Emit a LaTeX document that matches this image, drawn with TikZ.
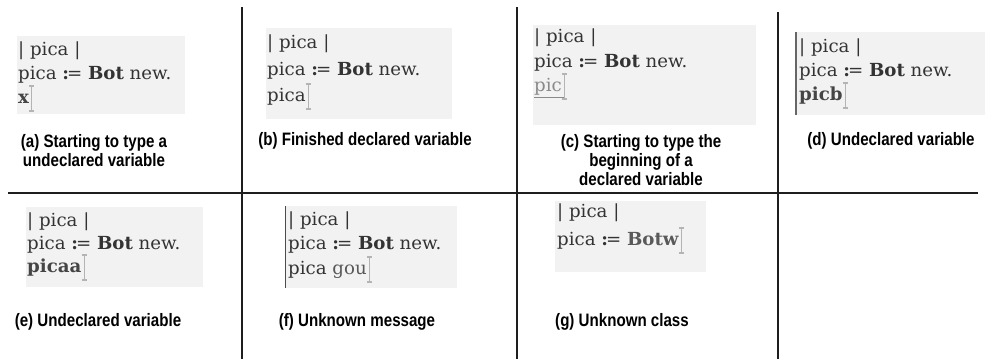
\documentclass[tikz,border=0pt]{standalone}
\usepackage{fontspec}
\usetikzlibrary{calc}
\newfontfamily\capfont{Liberation Sans}[FakeStretch=0.84]
\newfontfamily\codefont{DejaVu Serif}[FakeStretch=1.01]
\definecolor{codebg}{HTML}{F2F2F2}
\definecolor{codefg}{HTML}{333333}
\definecolor{undecl}{HTML}{454545}
\definecolor{partial}{HTML}{8A8A8A}
\definecolor{cursorc}{HTML}{B4B4B4}
\definecolor{rulec}{HTML}{1E1E1E}
\newcommand{\assign}{{\bfseries :}\kern-0.12em=}
\newcommand{\stmt}{pica \assign{} \textbf{Bot} new.}
\tikzset{
  divider/.style={draw=rulec, line width=1.4pt},
  codebox/.style={fill=codebg},
  codeline/.style={anchor=base west, inner sep=0pt, text=codefg,
    font=\codefont\fontsize{18}{22}\selectfont},
  caption/.style={align=center, inner sep=0pt, text=black,
    font=\capfont\bfseries\fontsize{18}{19}\selectfont},
  cursorline/.style={draw=cursorc, line width=1.1pt},
  leftbar/.style={draw=#1, line width=1.3pt},
}
\newcommand{\ibeam}[1]{%
  \coordinate (#1-cur) at ($(#1.base east)+(2.5,0)$);
  \draw[cursorline] ($(#1-cur)+(0,-17)$) -- ($(#1-cur)+(0,8)$)
    ($(#1-cur)+(-2.5,-17)$) -- ($(#1-cur)+(2.5,-17)$)
    ($(#1-cur)+(-2.5,8)$) -- ($(#1-cur)+(2.5,8)$);}
\begin{document}
\begin{tikzpicture}[x=1pt,y=-1pt]
\useasboundingbox (0,0) rectangle (985,359);
% grid rules
\draw[divider] (242,7) -- (242,359);
\draw[divider] (517,7) -- (517,359);
\draw[divider] (778,12) -- (778,359);
\draw[divider] (8,193) -- (978,193);

% (a)
\fill[codebox] (17,36) rectangle (185,114);
\node[codeline] (a1) at (18,55) {| pica |};
\node[codeline] (a2) at (18,79) {\stmt};
\node[codeline, text=undecl] (a3) at (18,103) {\textbf{x}};
\ibeam{a3}
\node[caption] (capa) at (94,151) {(a) Starting to type a\\undeclared variable};

% (b)
\fill[codebox] (266,28) rectangle (452,119);
\node[codeline] (b1) at (267,48) {| pica |};
\node[codeline] (b2) at (267,75) {\stmt};
\node[codeline] (b3) at (267,101) {pica};
\ibeam{b3}
\node[caption] (capb) at (365,141) {(b) Finished declared variable};

% (c)
\fill[codebox] (533,25) rectangle (756,125);
\node[codeline] (c1) at (534,42) {| pica |};
\node[codeline] (c2) at (534,67) {\stmt};
\node[codeline, text=partial] (c3) at (534,91) {pic};
\draw[draw=partial, line width=1pt] ($(c3.base west)+(0,6)$) -- ($(c3.base east)+(3,6)$);
\ibeam{c3}
\node[caption] (capc) at (641,160) {(c) Starting to type the\\beginning of a\\declared variable};

% (d)
\fill[codebox] (795,32) rectangle (985,115);
\draw[leftbar={black!60}, line width=2.4pt] (796.2,32) -- (796.2,115);
\node[codeline] (d1) at (799,52) {| pica |};
\node[codeline] (d2) at (799,76) {\stmt};
\node[codeline, text=undecl] (d3) at (799,100) {\textbf{picb}};
\ibeam{d3}
\node[caption] (capd) at (891,141) {(d) Undeclared variable};

% (e)
\fill[codebox] (26,207) rectangle (203,287);
\node[codeline] (e1) at (27,226) {| pica |};
\node[codeline] (e2) at (27,249) {\stmt};
\node[codeline, text=undecl] (e3) at (27,272) {\textbf{picaa}};
\ibeam{e3}
\node[caption] (cape) at (98,322) {(e) Undeclared variable};

% (f)
\fill[codebox] (285,206) rectangle (457,288);
\draw[leftbar={black!70}] (285.6,206) -- (285.6,288);
\node[codeline] (f1) at (288,225) {| pica |};
\node[codeline] (f2) at (288,249) {\stmt};
\node[codeline] (f3) at (288,274) {pica \textcolor{black!65}{gou}};
\ibeam{f3}
\node[caption] (capf) at (357,322) {(f) Unknown message};

% (g)
\fill[codebox] (555,201) rectangle (706,272);
\node[codeline] (g1) at (557,217) {| pica |};
\node[codeline] (g2) at (557,245) {pica \assign{} \textcolor{black!65}{\textbf{Botw}}};
\ibeam{g2}
\node[caption] (capg) at (622,322) {(g) Unknown class};
\end{tikzpicture}
\end{document}
